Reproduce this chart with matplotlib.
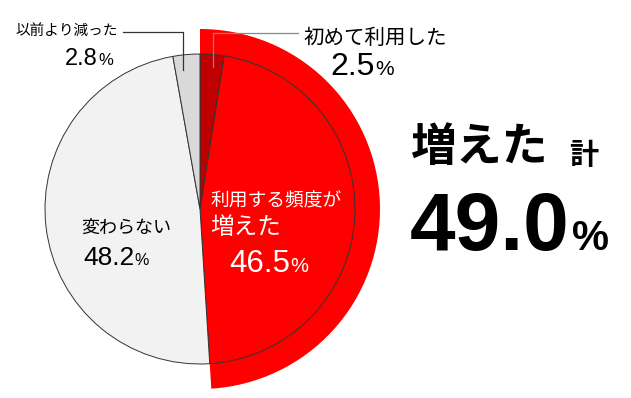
import matplotlib
matplotlib.use("Agg")
import matplotlib.pyplot as plt

labels = ["初めて利用した", "利用する頻度が増えた", "変わらない", "以前より減った"]
values = [2.5, 46.5, 48.2, 2.8]
colors = ["#C00000", "#FF0000", "#F2F2F2", "#D9D9D9"]
total_increase = 49.0

W, H = 631, 398
CX, CY, R = 200, 209, 155

fig = plt.figure(figsize=(W / 100, H / 100), dpi=100)
ax = fig.add_axes([0, 0, 1, 1])

def P(x, y):
    return ((x - CX) / R, (CY - y) / R)

JP = ["Noto Sans CJK JP", "DejaVu Sans"]
NUM = ["Liberation Sans", "DejaVu Sans"]

# outer band for the "increase" total
ax.pie([total_increase, 100 - total_increase], radius=180 / R, startangle=90,
       counterclock=False, colors=["#FF0000", "none"],
       wedgeprops=dict(linewidth=0))
# main pie
ax.pie(values, radius=1.0, startangle=90, counterclock=False, colors=colors,
       wedgeprops=dict(edgecolor="#333333", linewidth=0.7))

ax.set_xlim(-CX / R, (W - CX) / R)
ax.set_ylim(-(H - CY) / R, CY / R)
ax.set_aspect("auto")
ax.axis("off")

# leader lines
x0, y0 = P(213, 67); x1, y1 = P(213, 33); x2, y2 = P(298, 33)
ax.plot([x0, x1, x2], [y0, y1, y2], color="#888888", lw=0.9, zorder=5)
x0, y0 = P(183, 70); x1, y1 = P(183, 32); x2, y2 = P(123, 32)
ax.plot([x0, x1, x2], [y0, y1, y2], color="#333333", lw=0.9, zorder=5)

renderer = fig.canvas.get_renderer()

def T(x, y, s, size, fam, color="black", weight="normal", ha="left", va="center"):
    return ax.text(*P(x, y), s, fontsize=size, family=fam, color=color,
                   fontweight=weight, ha=ha, va=va, zorder=6)

def pct(x, y, value, size, psize, color="black", weight="normal", gap=0.5):
    t = T(x, y, f"{value:.1f}", size, NUM, color=color, weight=weight, va="baseline")
    bb = t.get_window_extent(renderer)
    px = bb.x1 + gap
    T(px, y, "%", psize, NUM, color=color, weight=weight, va="baseline")

# 初めて利用した
T(303, 38, labels[0], 14.8, JP)
pct(330, 75, values[0], 23, 15)

# 以前より減った
T(15, 31, labels[3], 10.5, JP)
pct(65, 65, values[3], 17, 12)

# 変わらない
T(81, 228, labels[2], 13, JP)
pct(83, 265, values[2], 19, 11.5)

# 利用する頻度が 増えた
T(210, 201, "利用する頻度が", 13.5, JP, color="white")
T(210, 228, "増えた", 17, JP, color="white")
pct(229, 272, values[1], 22.5, 14.5, color="white")

# 増えた 計
T(410, 148, "増えた", 33, JP, weight="bold")
T(569, 155, "計", 21, JP, weight="bold")
pct(410, 250, total_increase, 59, 30, weight="bold", gap=2)

fig.savefig("out.png", dpi=100)
